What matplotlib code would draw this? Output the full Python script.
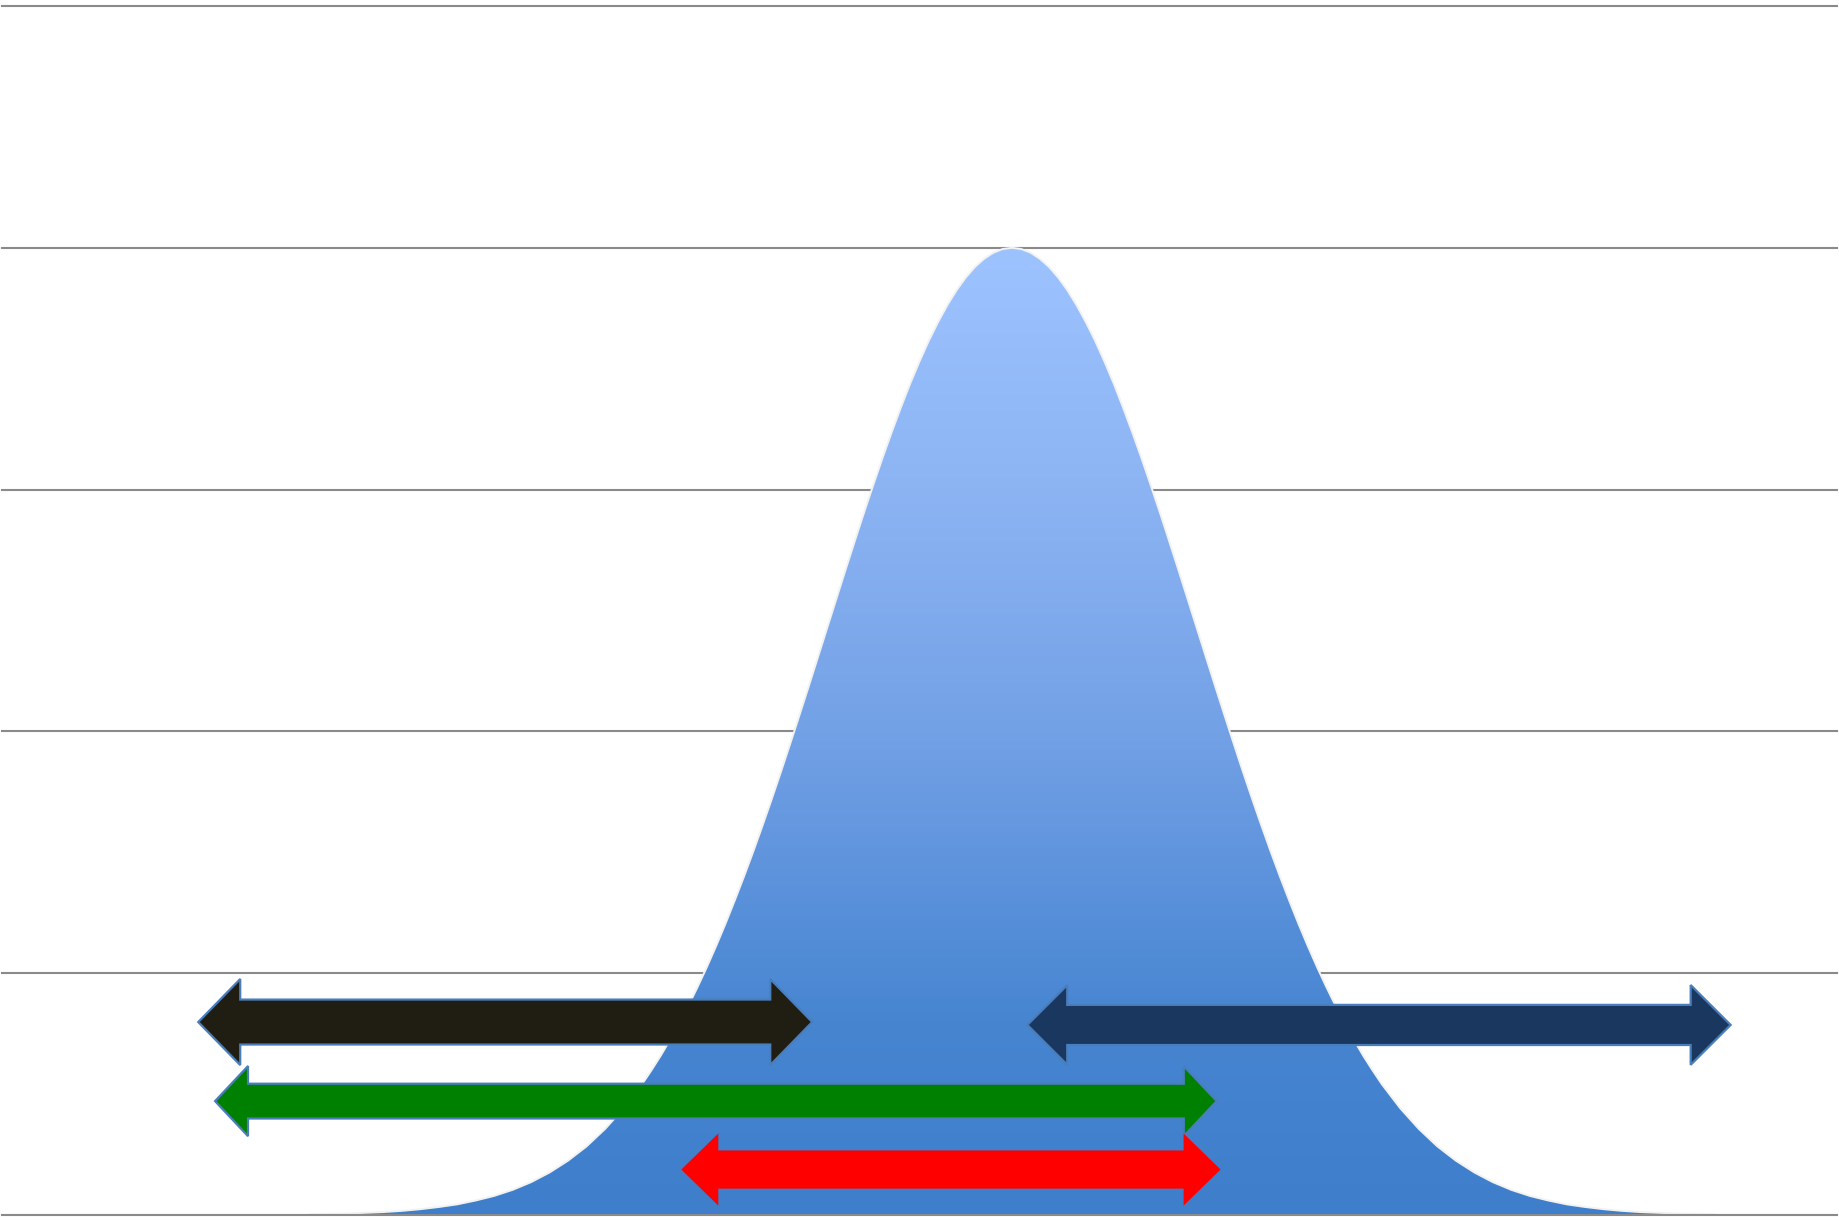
import numpy as np
import matplotlib.pyplot as plt
from matplotlib.colors import LinearSegmentedColormap
from matplotlib.patches import Polygon

# bell curve (x in std units, height in grid steps)
# finer steps through the middle where the curve bends most
curve_x = np.r_[np.linspace(-3.8, -2.1, 18), np.linspace(-2.0, 2.0, 81),
                np.linspace(2.1, 3.8, 18)]
curve_y = [0.003, 0.004, 0.006, 0.009, 0.012, 0.017, 0.024, 0.033, 0.044, 0.060,
           0.079, 0.104, 0.136, 0.176, 0.225, 0.284, 0.356, 0.441,
           0.541, 0.598, 0.658, 0.723, 0.792, 0.865, 0.943, 1.025, 1.112, 1.203,
           1.299, 1.398, 1.501, 1.608, 1.718, 1.831, 1.947, 2.065, 2.184, 2.305,
           2.426, 2.547, 2.668, 2.787, 2.905, 3.019, 3.131, 3.238, 3.341, 3.439,
           3.530, 3.615, 3.692, 3.762, 3.824, 3.877, 3.921, 3.955, 3.980, 3.995,
           4.000,
           3.995, 3.980, 3.955, 3.921, 3.877, 3.824, 3.762, 3.692, 3.615, 3.530,
           3.439, 3.341, 3.238, 3.131, 3.019, 2.905, 2.787, 2.668, 2.547, 2.426,
           2.305, 2.184, 2.065, 1.947, 1.831, 1.718, 1.608, 1.501, 1.398, 1.299,
           1.203, 1.112, 1.025, 0.943, 0.865, 0.792, 0.723, 0.658, 0.598, 0.541,
           0.441, 0.356, 0.284, 0.225, 0.176, 0.136, 0.104, 0.079, 0.060, 0.044,
           0.033, 0.024, 0.017, 0.012, 0.009, 0.006, 0.004, 0.003]
grid_levels = [0, 1, 2, 3, 4, 5]

# double headed arrows: left tip, right tip, centre height
arrow_left = [-4.400, 0.083, -4.309, -1.788]
arrow_right = [-1.080, 3.886, 1.107, 1.128]
arrow_y = [0.798, 0.786, 0.471, 0.188]

# arrow styles
arrow_colors = ['#201d13', '#1a3760', '#008000', '#ff0000']
arrow_edges = ['#4a7ebb', '#4a7ebb', '#4a7ebb', 'none']
head_half = [0.178, 0.165, 0.145, 0.149]
shaft_half = [0.093, 0.083, 0.072, 0.079]
head_len = [0.227, 0.216, 0.178, 0.200]

fig = plt.figure(figsize=(18.39, 12.20), dpi=100)
ax = fig.add_axes([0, 0, 1, 1])
ax.axis('off')

for g in grid_levels:
    ax.axhline(g, xmin=0.001, xmax=0.999, color='#8a8a8a', lw=1.5,
               zorder=2.5 if g == 0 else 1)

# curve with vertical gradient
cmap = LinearSegmentedColormap.from_list('bell', [
    (0.0, '#3e7ecb'), (0.2, '#4785d1'), (0.5, '#73a1e6'),
    (0.75, '#8cb4f3'), (1.0, '#9dc3ff')])
grad = np.linspace(0, 1, 256).reshape(-1, 1)
img = ax.imshow(grad, cmap=cmap, origin='lower', aspect='auto',
                extent=[curve_x[0], curve_x[-1], 0, max(curve_y)], zorder=2)
clip = Polygon(np.column_stack([np.r_[curve_x, curve_x[::-1]],
                                np.r_[curve_y, np.zeros(len(curve_y))]]),
               closed=True, transform=ax.transData)
img.set_clip_path(clip)
ax.plot(curve_x, curve_y, color='#f2f2f2', lw=1.4, zorder=2.2)
ax.set_xlim(-5.472, 4.472)
ax.set_ylim(-0.0207, 5.0248)

for i in range(len(arrow_left)):
    L, R, y = arrow_left[i], arrow_right[i], arrow_y[i]
    H, s, h = head_half[i], shaft_half[i], head_len[i]
    pts = [(L, y), (L + h, y + H), (L + h, y + s), (R - h, y + s), (R - h, y + H),
           (R, y), (R - h, y - H), (R - h, y - s), (L + h, y - s), (L + h, y - H)]
    ax.add_patch(Polygon(pts, closed=True, facecolor=arrow_colors[i],
                         edgecolor=arrow_edges[i], lw=1.6, zorder=4))

plt.savefig('out.png', dpi=100)
